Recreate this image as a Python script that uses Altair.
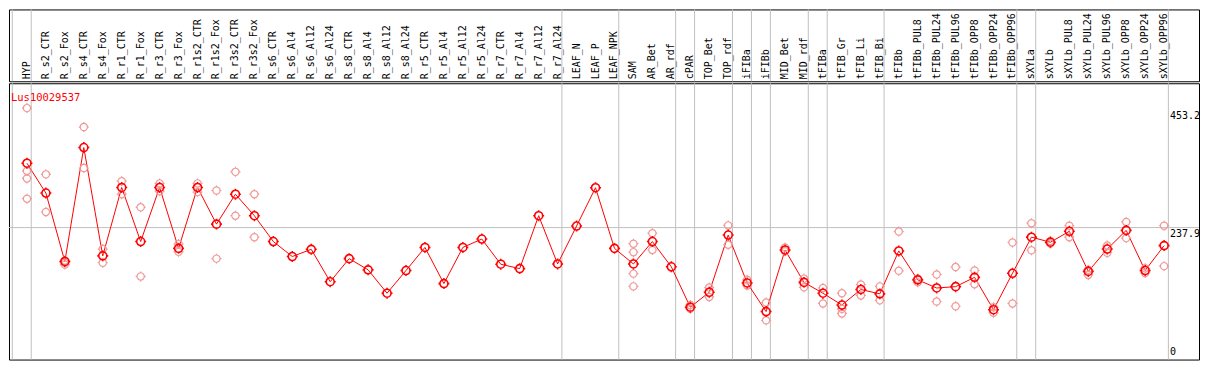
import altair as alt
import pandas as pd

gene = "Lus10029537"

categories = [
    "HYP", "R_s2_CTR", "R_s2_Fox", "R_s4_CTR", "R_s4_Fox", "R_r1_CTR", "R_r1_Fox",
    "R_r3_CTR", "R_r3_Fox", "R_r1s2_CTR", "R_r1s2_Fox", "R_r3s2_CTR", "R_r3s2_Fox",
    "R_s6_CTR", "R_s6_Al4", "R_s6_Al12", "R_s6_Al24", "R_s8_CTR", "R_s8_Al4",
    "R_s8_Al12", "R_s8_Al24", "R_r5_CTR", "R_r5_Al4", "R_r5_Al12", "R_r5_Al24",
    "R_r7_CTR", "R_r7_Al4", "R_r7_Al12", "R_r7_Al24", "LEAF_N", "LEAF_P", "LEAF_NPK",
    "SAM", "AR_Bet", "AR_rdf", "cPAR", "TOP_Bet", "TOP_rdf", "iFIBa", "iFIBb",
    "MID_Bet", "MID_rdf", "tFIBa", "tFIB_Gr", "tFIB_Li", "tFIB_Bi", "tFIBb",
    "tFIBb_PUL8", "tFIBb_PUL24", "tFIBb_PUL96", "tFIBb_OPP8", "tFIBb_OPP24",
    "tFIBb_OPP96", "sXYLa", "sXYLb", "sXYLb_PUL8", "sXYLb_PUL24", "sXYLb_PUL96",
    "sXYLb_OPP8", "sXYLb_OPP24", "sXYLb_OPP96",
]

means = [
    353.9, 300.1, 176.8, 382.1, 186.9, 310.2, 212.7, 310.2, 200.4, 310.2, 244.1,
    298.0, 259.3, 212.7, 185.7, 198.7, 140.3, 181.9, 161.7, 119.6, 160.5, 202.1,
    136.9, 202.1, 217.2, 171.8, 163.9, 259.3, 172.3, 240.7, 309.7, 200.4, 172.3,
    212.7, 167.2, 94.4, 121.3, 224.4, 138.1, 86.5, 197.5, 139.1, 119.6, 98.3,
    126.3, 118.4, 195.8, 143.7, 129.0, 131.4, 148.2, 89.8, 155.5, 220.6, 211.5,
    231.2, 158.9, 199.2, 232.8, 160.5, 205.4,
]

replicates = [
    [453.2, 340.0, 326.5, 290.0],
    [333.8, 266.0],
    [178.5, 174.5, 171.1],
    [419.1, 345.1],
    [199.2, 174.5],
    [321.5, 298.0],
    [274.4, 149.9],
    [317.5, 303.5],
    [208.1, 194.1],
    [317.5, 301.8],
    [304.7, 181.9],
    [338.3, 259.3],
    [298.0, 220.6],
    [], [], [], [], [], [], [], [], [], [], [], [], [], [], [], [], [], [], [],
    [208.8, 193.6, 154.9, 131.9],
    [227.8, 197.5],
    [],
    [98.2, 91.5],
    [129.7, 112.9],
    [241.8, 207.1],
    [143.7, 133.6],
    [102.8, 70.8],
    [202.1, 195.3],
    [145.9, 130.2],
    [129.0, 101.1],
    [119.6, 91.5, 83.1],
    [135.3, 115.6],
    [131.9, 106.7],
    [230.7, 160.0],
    [145.9, 139.1],
    [153.3, 104.5],
    [166.7, 96.1],
    [160.5, 135.8],
    [94.4, 84.3],
    [211.0, 101.1],
    [245.8, 197.0],
    [213.8, 209.3],
    [241.3, 220.6],
    [161.7, 152.6],
    [205.4, 192.5],
    [248.0, 218.9],
    [164.4, 156.0],
    [241.3, 168.4],
]

# group separators are drawn just after these category indices
separators_after = [-1, 0, 28, 31, 34, 35, 37, 38, 39, 41, 42, 45, 52, 53, 60]
ytick_values = [0, 237.9, 453.2]

# ---------------------------------------------------------------- tables
n = len(categories)
df_mean = pd.DataFrame({"idx": list(range(n)), "cat": categories, "val": means})
df_rep = pd.DataFrame(
    [{"idx": i, "val": v} for i, reps in enumerate(replicates) for v in reps]
)
df_sep = pd.DataFrame({"pos": [s + 0.226 for s in separators_after]})
df_grid = pd.DataFrame({"v": [ytick_values[1]]})
df_ticks = pd.DataFrame({"v": ytick_values, "lab": ["0", "237.9", "453.2"]})
df_title = pd.DataFrame({"t": [gene]})

W = 1193
H_HEAD = 72
H_PLOT = 277
GRID = "#c0c0c0"
MONO = "DejaVu Sans Mono"

xs = alt.Scale(domain=[-18 / 19, (W - 18) / 19], nice=False, zero=False)
ys = alt.Scale(domain=[0, 498], nice=False, zero=True)

MARK = ("M-0.727,0A0.727,0.727,0,1,1,0.727,0A0.727,0.727,0,1,1,-0.727,0"
        "M0,-0.727L0,-1M0,0.727L0,1M-0.727,0L-1,0M0.727,0L1,0")

# ---------------------------------------------------------------- header
head_sep = alt.Chart(df_sep).mark_rule(color=GRID, strokeWidth=1).encode(
    x=alt.X("pos:Q", scale=xs, axis=None)
)
head_lab = alt.Chart(df_mean).mark_text(
    angle=270, align="left", baseline="middle", font=MONO, fontSize=10, color="black"
).encode(
    x=alt.X("idx:Q", scale=xs, axis=None),
    y=alt.value(70),
    text="cat:N",
)
header = alt.layer(head_sep, head_lab).properties(width=W, height=H_HEAD)

# ---------------------------------------------------------------- plot
X = alt.X("idx:Q", scale=xs, axis=None)
Y = alt.Y("val:Q", scale=ys, axis=None)

sep = alt.Chart(df_sep).mark_rule(color=GRID, strokeWidth=1).encode(
    x=alt.X("pos:Q", scale=xs, axis=None)
)
hgrid = alt.Chart(df_grid).mark_rule(color=GRID, strokeWidth=1).encode(
    y=alt.Y("v:Q", scale=ys, axis=None)
)
line = alt.Chart(df_mean).mark_line(color="#ff0000", strokeWidth=1).encode(x=X, y=Y)
reps = alt.Chart(df_rep).mark_point(
    shape=MARK, size=100, filled=False, color="#f09898", strokeWidth=1.2, opacity=1
).encode(x=X, y=Y)
mpts = alt.Chart(df_mean).mark_point(
    shape=MARK, size=121, filled=False, color="#ff0000", strokeWidth=1.6, opacity=1
).encode(x=X, y=Y)
title = alt.Chart(df_title).mark_text(
    align="left", baseline="alphabetic", color="#ff0000", font=MONO, fontSize=10.5
).encode(x=alt.value(2), y=alt.value(18), text="t:N")


def tick_label(value, baseline, dy):
    return alt.Chart(df_ticks).transform_filter(
        alt.datum.v == value
    ).mark_text(
        align="left", baseline=baseline, dy=dy, font=MONO, fontSize=10, color="black"
    ).encode(
        x=alt.value(1164),
        y=alt.Y("v:Q", scale=ys, axis=None),
        text="lab:N",
    )


lab_top = tick_label(453.2, "top", 3)
lab_mid = tick_label(237.9, "top", 1)
lab_zero = tick_label(0, "bottom", -3)

plot = alt.layer(
    sep, hgrid, line, reps, mpts, title, lab_top, lab_mid, lab_zero
).properties(width=W, height=H_PLOT)

chart = alt.vconcat(header, plot, spacing=0).properties(
    padding=0, background="white"
).configure_view(stroke="black", strokeWidth=1).configure_concat(spacing=0)

chart.save("out.html", embed_options={"renderer": "svg", "actions": False})
